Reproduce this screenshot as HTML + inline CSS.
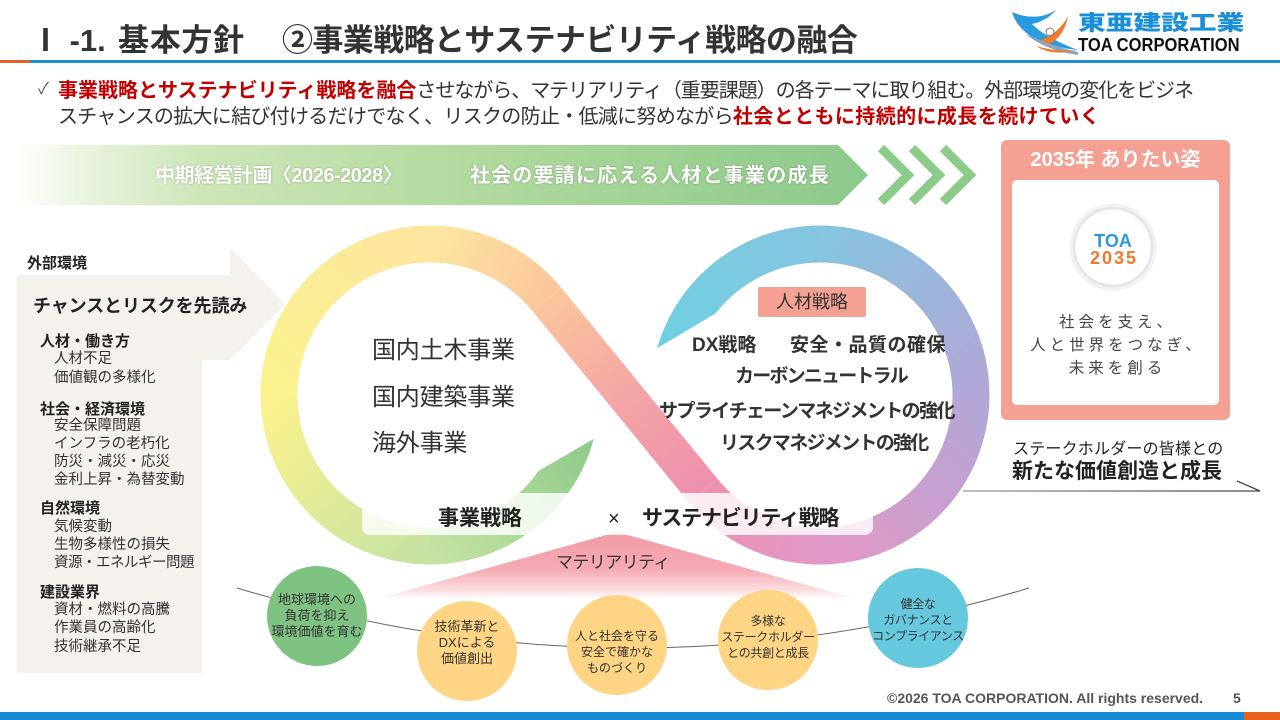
<!DOCTYPE html>
<html><head><meta charset="utf-8">
<style>
*{margin:0;padding:0;box-sizing:border-box}
body{width:1280px;height:720px;position:relative;overflow:hidden;background:#fff;font-family:"Liberation Sans","Noto Sans CJK JP",sans-serif;color:#333}
.t{position:absolute;white-space:nowrap;line-height:1}
.b{font-weight:700}
.red{color:#c00000;font-weight:700}
.ci{position:absolute;width:120px;text-align:center;line-height:16px;font-size:13px;color:#333;white-space:nowrap}
</style></head><body>
<svg width="1280" height="720" style="position:absolute;left:0;top:0" xmlns="http://www.w3.org/2000/svg">
<defs>
<linearGradient id="ban" x1="15" y1="0" x2="868" y2="0" gradientUnits="userSpaceOnUse">
<stop offset="0" stop-color="#ffffff"/><stop offset="0.1" stop-color="#e5f1d8"/><stop offset="0.22" stop-color="#cde6b8"/><stop offset="0.55" stop-color="#b0d99d"/><stop offset="1" stop-color="#8cc98b"/></linearGradient>
<linearGradient id="gA" x1="595" y1="440" x2="430" y2="560" gradientUnits="userSpaceOnUse"><stop offset="0" stop-color="#8ecb8b"/><stop offset="1" stop-color="#c6e3a2"/></linearGradient>
<linearGradient id="gB" x1="430" y1="546" x2="279" y2="395" gradientUnits="userSpaceOnUse"><stop offset="0" stop-color="#c6e3a2"/><stop offset="1" stop-color="#fbf28e"/></linearGradient>
<linearGradient id="gC" x1="279" y1="395" x2="430" y2="244" gradientUnits="userSpaceOnUse"><stop offset="0" stop-color="#fbf28e"/><stop offset="1" stop-color="#fde6a0"/></linearGradient>
<linearGradient id="gD" x1="430" y1="244" x2="547" y2="299" gradientUnits="userSpaceOnUse"><stop offset="0" stop-color="#fde6a0"/><stop offset="1" stop-color="#fbc69c"/></linearGradient>
<linearGradient id="gE" x1="547" y1="299" x2="703" y2="491" gradientUnits="userSpaceOnUse"><stop offset="0" stop-color="#fbc69c"/><stop offset="0.5" stop-color="#f4a5a5"/><stop offset="1" stop-color="#ee90ae"/></linearGradient>
<linearGradient id="gF" x1="703" y1="491" x2="820" y2="546" gradientUnits="userSpaceOnUse"><stop offset="0" stop-color="#ee90ae"/><stop offset="1" stop-color="#e298c6"/></linearGradient>
<linearGradient id="gG" x1="820" y1="546" x2="971" y2="395" gradientUnits="userSpaceOnUse"><stop offset="0" stop-color="#e298c6"/><stop offset="1" stop-color="#b2a7d6"/></linearGradient>
<linearGradient id="gH" x1="971" y1="395" x2="820" y2="244" gradientUnits="userSpaceOnUse"><stop offset="0" stop-color="#b2a7d6"/><stop offset="1" stop-color="#86c4df"/></linearGradient>
<linearGradient id="gI" x1="820" y1="225" x2="657" y2="348" gradientUnits="userSpaceOnUse"><stop offset="0" stop-color="#86c4df"/><stop offset="1" stop-color="#6fd0e2"/></linearGradient>
<linearGradient id="tri" x1="0" y1="532" x2="0" y2="600" gradientUnits="userSpaceOnUse"><stop offset="0" stop-color="#f29aa6"/><stop offset="0.55" stop-color="#f5aab3"/><stop offset="0.85" stop-color="#fbdde0"/><stop offset="1" stop-color="#ffffff"/></linearGradient>
<linearGradient id="ln" x1="963" y1="0" x2="1260" y2="0" gradientUnits="userSpaceOnUse"><stop offset="0" stop-color="#999"/><stop offset="1" stop-color="#444"/></linearGradient>
</defs>

<!-- header line -->
<rect x="0" y="60" width="30" height="3" fill="#e2622a"/>
<rect x="30" y="60" width="1250" height="3" fill="#1f8fcd"/>

<!-- logo bird -->
<path d="M1012,12 C1018,32 1038,46 1078,50 C1052,40 1040,32 1032,24 C1042,22 1050,17 1056,10 C1044,18 1028,19 1012,12 Z" fill="#2a9be0"/>
<path d="M1026,34 C1040,46 1058,52 1078,55 L1078,52 C1060,48 1044,42 1026,34 Z" fill="#8aa6c0"/>
<path d="M1040,40 C1052,36 1062,28 1068,16 C1066,28 1060,38 1050,44 Z" fill="#ee7a2a"/>
<path d="M1036,46 C1050,50 1064,52 1078,50 C1064,54 1048,54 1036,46 Z" fill="#ee7a2a"/>
<circle cx="1050" cy="32" r="4" fill="none" stroke="#777" stroke-width="1"/>

<!-- left panel arrow -->
<path d="M17,275 H230 V248 L285,304 L230,360 H202 V673 H17 Z" fill="#f5f1ec"/>

<!-- banner -->
<path d="M15,145 H838 L868,175 L838,205 H15 Z" fill="url(#ban)"/>
<g fill="none" stroke="#8ccb8a" stroke-width="9" stroke-linejoin="miter">
<polyline points="881,148 908,175 881,202"/>
<polyline points="912,148 939,175 912,202"/>
<polyline points="943,148 970,175 943,202"/>
</g>

<!-- 2035 box -->
<rect x="1001" y="140" width="229" height="280" rx="6" fill="#f4a093"/>
<rect x="1012" y="180" width="207" height="225" rx="5" fill="#ffffff"/>
<circle cx="1113" cy="247" r="39" fill="#fff" stroke="#e6e6e6" stroke-width="3"/>
<circle cx="1113" cy="247" r="42" fill="none" stroke="#f2f2f2" stroke-width="3"/>

<!-- stakeholder line -->
<path d="M963,491 H1260 L1237,481" fill="none" stroke="url(#ln)" stroke-width="1.3"/>

<!-- infinity loops -->
<path d="M593.72,438.87 A169.5,169.5 0 0 1 430,564.5 L430,527.5 A132.5,132.5 0 0 0 538.54,471 Z" fill="url(#gA)"/>
<g fill="none" stroke-width="37">
<path d="M430,546 A151,151 0 0 1 279,395" stroke="url(#gB)"/>
<path d="M279,395 A151,151 0 0 1 430,244" stroke="url(#gC)"/>
<path d="M430,244 A151,151 0 0 1 546.8,299.4" stroke="url(#gD)"/>
<path d="M546.8,299.4 L703.2,490.6" stroke="url(#gE)"/>
<path d="M703.2,490.6 A151,151 0 0 0 820,546" stroke="url(#gF)"/>
<path d="M820,546 A151,151 0 0 0 971,395" stroke="url(#gG)"/>
<path d="M971,395 A151,151 0 0 0 820,244" stroke="url(#gH)"/>
</g>
<path d="M820,225.5 A169.5,169.5 0 0 0 657.07,348.28 L715.59,313.43 A132.5,132.5 0 0 1 820,262.5 Z" fill="url(#gI)"/>

<!-- 人材戦略 box -->
<rect x="758" y="287" width="108" height="30" rx="2" fill="#f4a093"/>

<!-- materiality triangle -->
<polygon points="617,532 380,598 853,598" fill="url(#tri)"/>

<!-- label box -->
<rect x="362" y="493" width="511" height="42" rx="8" fill="#ffffff" fill-opacity="0.82"/>

<!-- curve line -->
<path d="M237,588 Q633,708 1029,588" fill="none" stroke="#666" stroke-width="1"/>

<!-- circles -->
<circle cx="317" cy="616" r="50" fill="#7fc383"/>
<circle cx="467" cy="651" r="50" fill="#fdd584"/>
<circle cx="617" cy="645" r="50" fill="#fdd584"/>
<circle cx="768" cy="640" r="50" fill="#fdd584"/>
<circle cx="918" cy="618" r="50" fill="#66c8dc"/>

<!-- footer -->
<rect x="0" y="712" width="1244" height="8" fill="#168bd6"/>
<rect x="1244" y="712" width="36" height="8" fill="#e9611d"/>
</svg>

<!-- title -->
<div class="t b" style="left:30px;top:25px;font-size:31px;color:#333">Ⅰ -1.</div>
<div class="t b" style="left:118px;top:25px;font-size:31px;color:#333;letter-spacing:0.7px">基本方針</div>
<div class="t b" style="left:282px;top:25px;font-size:31px;color:#333;letter-spacing:-0.6px">②事業戦略とサステナビリティ戦略の融合</div>

<!-- logo text -->
<div class="t" style="left:1078px;top:13px;font-size:21px;font-weight:900;color:#1b8fd6;transform:scaleX(1.32);transform-origin:0 0">東亜建設工業</div>
<div class="t b" style="left:1078px;top:36px;font-size:18px;color:#111;transform:scaleX(0.92);transform-origin:0 0;font-family:'Liberation Sans',sans-serif">TOA CORPORATION</div>

<!-- bullet -->
<div class="t" style="left:38px;top:82px;font-size:16px;color:#555">✓</div>
<div class="t" style="left:58px;top:81px;font-size:20px"><span class="red">事業戦略とサステナビリティ戦略を融合</span><span style="letter-spacing:-1.03px">させながら、マテリアリティ（重要課題）の各テーマに取り組む。外部環境の変化をビジネ</span></div>
<div class="t" style="left:58px;top:107px;font-size:20px"><span style="letter-spacing:-0.7px">スチャンスの拡大に結び付けるだけでなく、リスクの防止・低減に努めながら</span><span class="red" style="letter-spacing:0.4px">社会とともに持続的に成長を続けていく</span></div>

<!-- banner text -->
<div class="t b" style="left:155px;top:166px;font-size:20px;color:#fff;text-shadow:0 0 2px rgba(0,0,0,0.25);letter-spacing:-0.5px">中期経営計画〈2026-2028〉</div>
<div class="t b" style="left:470px;top:166px;font-size:20px;color:#fff;text-shadow:0 0 2px rgba(0,0,0,0.25);letter-spacing:1.2px">社会の要請に応える人材と事業の成長</div>

<!-- 2035 box text -->
<div class="t b" style="left:1001px;width:229px;text-align:center;top:150px;font-size:20px;color:#fff">2035年 ありたい姿</div>
<div class="t b" style="left:1074px;width:78px;text-align:center;top:232px;font-size:18px;color:#2b9ad6;font-family:'Liberation Sans',sans-serif">TOA</div>
<div class="t b" style="left:1074px;width:78px;text-align:center;top:249px;font-size:18px;color:#ee7a30;letter-spacing:2px;padding-left:2px;font-family:'Liberation Sans',sans-serif">2035</div>
<div class="t" style="left:1012px;width:207px;text-align:center;top:315px;font-size:15.5px;color:#444;letter-spacing:4px;padding-left:4px">社会を支え、</div>
<div class="t" style="left:1012px;width:207px;text-align:center;top:338px;font-size:15.5px;color:#444;letter-spacing:4px;padding-left:4px">人と世界をつなぎ、</div>
<div class="t" style="left:1012px;width:207px;text-align:center;top:361px;font-size:15.5px;color:#444;letter-spacing:4px;padding-left:4px">未来を創る</div>

<div class="t" style="left:1013px;top:442px;font-size:16px;color:#222;letter-spacing:0.2px">ステークホルダーの皆様との</div>
<div class="t b" style="left:1012px;top:461px;font-size:21px;color:#222">新たな価値創造と成長</div>

<!-- left panel text -->
<div class="t b" style="left:27px;top:256px;font-size:15px;color:#222">外部環境</div>
<div class="t b" style="left:33px;top:297px;font-size:18px;color:#222;letter-spacing:-0.1px">チャンスとリスクを先読み</div>
<div class="t b" style="left:40px;top:334px;font-size:15px;color:#222">人材・働き方</div>
<div class="t" style="left:54px;top:352px;font-size:14.5px">人材不足</div>
<div class="t" style="left:54px;top:371px;font-size:14.5px">価値観の多様化</div>
<div class="t b" style="left:40px;top:402px;font-size:15px;color:#222">社会・経済環境</div>
<div class="t" style="left:54px;top:419px;font-size:14.5px">安全保障問題</div>
<div class="t" style="left:54px;top:437px;font-size:14.5px">インフラの老朽化</div>
<div class="t" style="left:54px;top:455px;font-size:14.5px">防災・減災・応災</div>
<div class="t" style="left:54px;top:473px;font-size:14.5px">金利上昇・為替変動</div>
<div class="t b" style="left:40px;top:501px;font-size:15px;color:#222">自然環境</div>
<div class="t" style="left:54px;top:520px;font-size:14.5px">気候変動</div>
<div class="t" style="left:54px;top:538px;font-size:14.5px">生物多様性の損失</div>
<div class="t" style="left:54px;top:556px;font-size:14.5px;letter-spacing:-0.5px">資源・エネルギー問題</div>
<div class="t b" style="left:40px;top:585px;font-size:15px;color:#222">建設業界</div>
<div class="t" style="left:54px;top:603px;font-size:14.5px">資材・燃料の高騰</div>
<div class="t" style="left:54px;top:621px;font-size:14.5px">作業員の高齢化</div>
<div class="t" style="left:54px;top:640px;font-size:14.5px">技術継承不足</div>

<!-- left loop text -->
<div class="t" style="left:372px;top:339px;font-size:24px;letter-spacing:-0.2px">国内土木事業</div>
<div class="t" style="left:372px;top:386px;font-size:24px;letter-spacing:-0.2px">国内建築事業</div>
<div class="t" style="left:372px;top:432px;font-size:24px;letter-spacing:-0.2px">海外事業</div>

<!-- right loop text -->
<div class="t" style="left:758px;width:108px;text-align:center;top:293px;font-size:18px;color:#333">人材戦略</div>
<div class="t b" style="left:692px;top:336px;font-size:19px">DX戦略</div>
<div class="t b" style="left:790px;top:336px;font-size:19px;letter-spacing:0.5px">安全・品質の確保</div>
<div class="t b" style="left:735px;top:367px;font-size:19px;letter-spacing:-1.8px">カーボンニュートラル</div>
<div class="t b" style="left:659px;top:402px;font-size:19px;letter-spacing:-1.6px">サプライチェーンマネジメントの強化</div>
<div class="t b" style="left:720px;top:434px;font-size:19px;letter-spacing:-1.7px">リスクマネジメントの強化</div>

<!-- label box text -->
<div class="t b" style="left:438px;top:508px;font-size:21px;color:#222">事業戦略</div>
<div class="t" style="left:608px;top:509px;font-size:20px;color:#222">×</div>
<div class="t b" style="left:642px;top:508px;font-size:21px;color:#222;letter-spacing:-1.2px">サステナビリティ戦略</div>

<div class="t" style="left:556px;top:554px;font-size:17px;color:#333;letter-spacing:-0.6px">マテリアリティ</div>

<!-- circle texts -->
<div class="ci" style="left:257px;top:592px">地球環境への<br>負荷を抑え<br>環境価値を育む</div>
<div class="ci" style="left:407px;top:619px">技術革新と<br>DXによる<br>価値創出</div>
<div class="ci" style="left:557px;top:628px;font-size:12px">人と社会を守る<br>安全で確かな<br>ものづくり</div>
<div class="ci" style="left:708px;top:613px;font-size:12px;letter-spacing:-0.3px">多様な<br>ステークホルダー<br>との共創と成長</div>
<div class="ci" style="left:858px;top:596px;font-size:12px;letter-spacing:-0.4px">健全な<br>ガバナンスと<br>コンプライアンス</div>

<!-- footer -->
<div class="t b" style="left:887px;top:691px;font-size:14px;color:#555;font-family:'Liberation Sans',sans-serif">©2026 TOA CORPORATION. All rights reserved.</div>
<div class="t b" style="left:1233px;top:691px;font-size:14px;color:#555;font-family:'Liberation Sans',sans-serif">5</div>
</body></html>
